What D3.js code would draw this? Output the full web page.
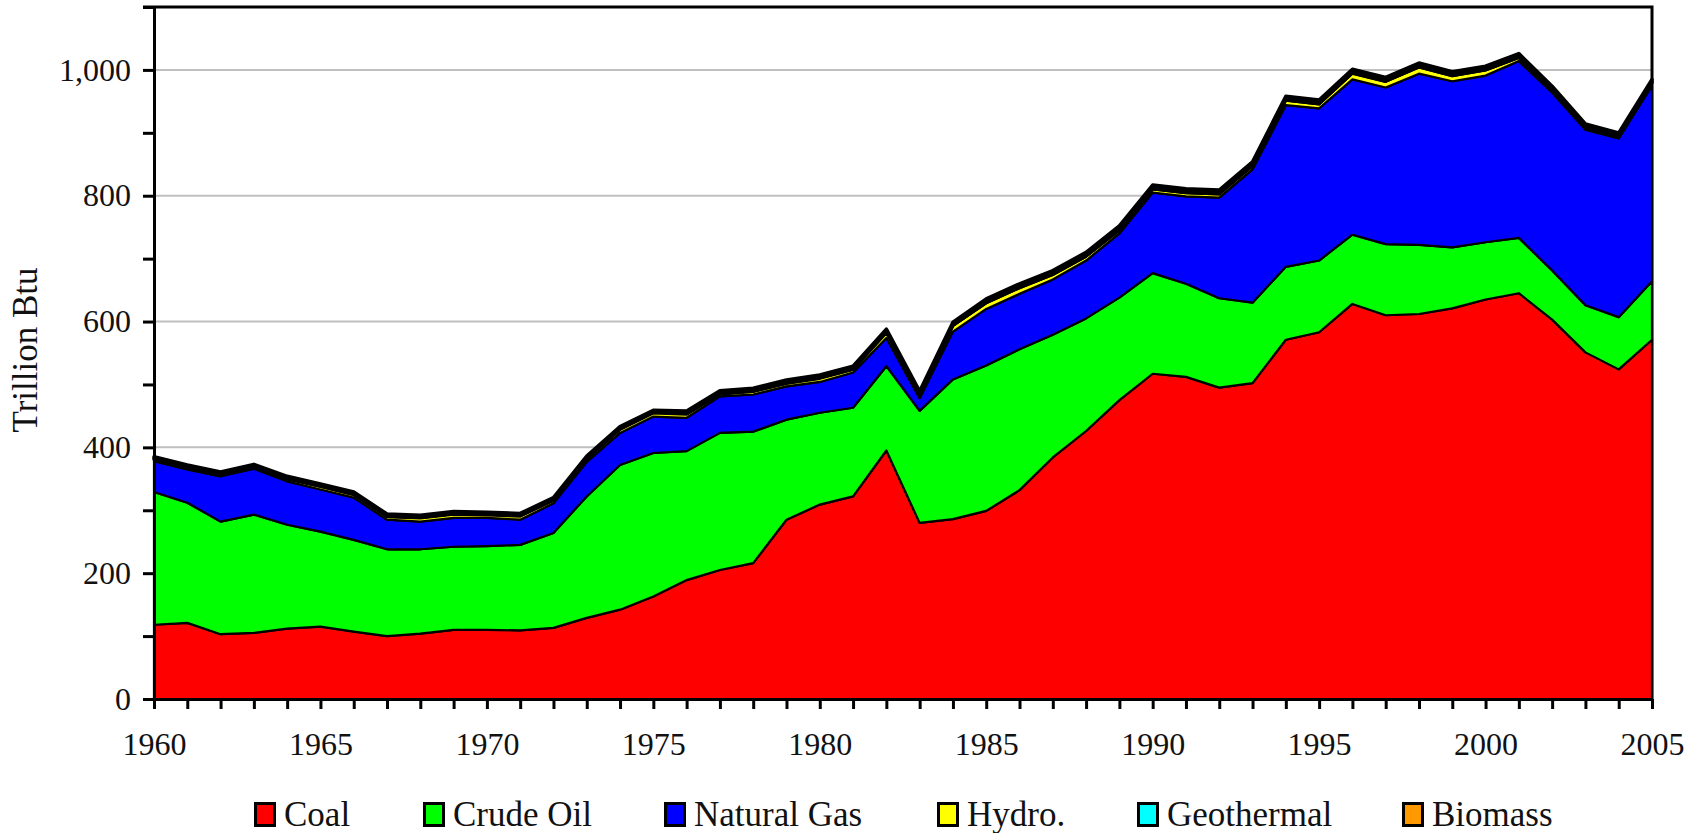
<!DOCTYPE html>
<html>
<head>
<meta charset="utf-8">
<script src="https://cdnjs.cloudflare.com/ajax/libs/d3/7.8.5/d3.min.js"></script>
<style>
body { margin: 0; background: #fff; }
svg text { font-family: "Liberation Serif", "Times New Roman", serif; fill: #111; }
</style>
</head>
<body>
<svg id="chart" width="1699" height="833"></svg>
<script>
// data (trillion Btu)
var years = [1960,1961,1962,1963,1964,1965,1966,1967,1968,1969,
             1970,1971,1972,1973,1974,1975,1976,1977,1978,1979,
             1980,1981,1982,1983,1984,1985,1986,1987,1988,1989,
             1990,1991,1992,1993,1994,1995,1996,1997,1998,1999,
             2000,2001,2002,2003,2004,2005];
var coal = [118,121,103,105,112,115,107,100,104,110,
            110,109,113,129,142,163,189,205,216,285,
            309,322,395,280,286,299,332,384,426,475,
            517,512,495,502,571,583,628,610,612,621,
            635,645,603,551,524,571];
var crude_oil = [211,191,179,188,165,151,146,138,134,132,
                 133,136,151,193,230,228,205,218,209,159,
                 146,141,134,178,222,231,224,195,179,163,
                 160,148,142,128,116,114,110,113,110,97,
                 91,88,78,75,83,93];
var natural_gas = [49,53,72,73,69,67,67,47,44,46,
                   45,40,47,55,51,58,53,58,59,53,
                   49,56,45,20,76,90,88,88,92,102,
                   128,139,160,212,257,242,247,249,272,264,
                   265,281,283,279,284,311];
var hydro = [3,3,3,3,4,5,5,5,6,6,
             5,6,5,5,6,6,6,4,5,5,
             6,5,9,6,9,9,9,7,6,5,
             5,5,5,5,7,6,9,9,10,8,
             8,5,3,2,2,3];
var geothermal = [0,0,0,0,0,0,0,0,0,0,
                  0,0,0,0,0,0,0,0,0,0,
                  0,0,0,0,1,2,2,2,2,2,
                  2,2,2,2,2,2,2,2,2,2,
                  2,2,2,2,2,2];
var biomass = [4,4,4,4,4,4,4,4,4,4,
               4,4,4,4,4,4,5,5,5,5,
               5,5,5,5,5,5,5,5,5,5,
               5,5,5,5,5,5,5,5,5,5,
               5,5,5,5,5,5];

var series_names = ['Coal','Crude Oil','Natural Gas','Hydro.','Geothermal','Biomass'];
var series_keys = ['coal','oil','gas','hydro','geo','bio'];
var series_colors = ['#ff0000','#00ff00','#0000ff','#ffff00','#00ffff','#ff9900'];
var y_ticks = [0,100,200,300,400,500,600,700,800,900,1000,1100];
var y_labels = [0,200,400,600,800,1000];
var x_labels = [1960,1965,1970,1975,1980,1985,1990,1995,2000,2005];
var legend_x = [254,423,664,937,1137,1402];

var svg = d3.select('#chart');
var plot_left = 154, plot_right = 1652, plot_top = 7, plot_bottom = 699;

var x = d3.scaleLinear().domain([1960,2005]).range([plot_left,plot_right]);
var y = d3.scaleLinear().domain([0,1100]).range([plot_bottom,plot_top]);

var table = years.map(function(yr,i) {
	return {year: yr, coal: coal[i], oil: crude_oil[i], gas: natural_gas[i],
	        hydro: hydro[i], geo: geothermal[i], bio: biomass[i]};
});
var stacked = d3.stack().keys(series_keys)(table);

// gridlines at labelled values
svg.append('g').selectAll('line')
	.data(y_labels.filter(function(v){ return v > 0; }))
	.enter().append('line')
	.attr('x1', plot_left).attr('x2', plot_right)
	.attr('y1', function(d){ return y(d); }).attr('y2', function(d){ return y(d); })
	.attr('stroke', '#c0c0c0').attr('stroke-width', 2);

// plot frame top / right
svg.append('path')
	.attr('d', 'M' + (plot_left-11) + ',' + y(1100) + 'H' + x(2005) + 'V' + plot_bottom)
	.attr('fill', 'none').attr('stroke', '#000').attr('stroke-width', 3);

var area = d3.area()
	.x(function(d){ return x(d.data.year); })
	.y0(function(d){ return y(d[0]); })
	.y1(function(d){ return y(d[1]); });

svg.append('g').selectAll('path')
	.data(stacked)
	.enter().append('path')
	.attr('d', area)
	.attr('fill', function(d,i){ return series_colors[i]; })
	.attr('stroke', '#000')
	.attr('stroke-width', function(d,i){ return i == stacked.length - 1 ? 3.5 : 2.2; })
	.attr('stroke-linejoin', 'round');

// axes
var y_axis = d3.axisLeft(y)
	.tickValues(y_ticks)
	.tickSize(11).tickSizeOuter(0).tickPadding(12)
	.tickFormat(function(d){ return y_labels.indexOf(d) >= 0 ? d3.format(',')(d) : ''; });
var gy = svg.append('g').attr('transform', 'translate(' + plot_left + ',0)').call(y_axis);

var x_axis = d3.axisBottom(x)
	.tickValues(years)
	.tickSize(10).tickSizeOuter(0).tickPadding(23)
	.tickFormat(function(d){ return x_labels.indexOf(d) >= 0 ? String(d) : ''; });
var gx = svg.append('g').attr('transform', 'translate(0,' + plot_bottom + ')').call(x_axis);

[gx, gy].forEach(function(g) {
	g.select('.domain').attr('stroke', '#000').attr('stroke-width', 3);
	g.selectAll('.tick line').attr('stroke', '#000').attr('stroke-width', 3);
	g.selectAll('.tick text').attr('font-size', 32)
		.attr('font-family', '"Liberation Serif", serif').attr('fill', '#111');
});

// axis title
svg.append('text')
	.attr('transform', 'translate(37,350) rotate(-90)')
	.attr('text-anchor', 'middle')
	.attr('font-size', 35)
	.text('Trillion Btu');

// legend
var legend = svg.append('g').selectAll('g')
	.data(series_names)
	.enter().append('g')
	.attr('transform', function(d,i){ return 'translate(' + legend_x[i] + ',802)'; });
legend.append('rect')
	.attr('x', 1.5).attr('y', 1.5)
	.attr('width', 19).attr('height', 22)
	.attr('fill', function(d,i){ return series_colors[i]; })
	.attr('stroke', '#000').attr('stroke-width', 3);
legend.append('text')
	.attr('x', 30).attr('y', 24)
	.attr('font-size', 35)
	.text(function(d){ return d; });
</script>
</body>
</html>
